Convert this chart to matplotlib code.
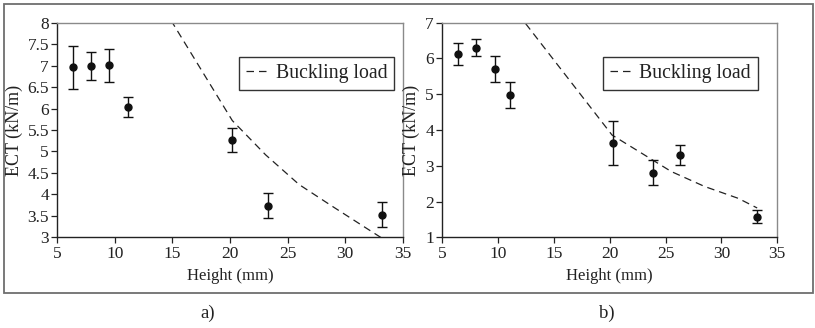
import numpy as np
import matplotlib
matplotlib.use("Agg")
import matplotlib.pyplot as plt
from matplotlib.patches import Rectangle

plt.rcParams['font.family'] = ['Liberation Serif', 'DejaVu Serif']
plt.rcParams['text.color'] = '#222222'
plt.rcParams['axes.labelcolor'] = '#222222'
plt.rcParams['xtick.color'] = '#222222'
plt.rcParams['ytick.color'] = '#222222'

# panel a) measured ECT and buckling load
h_a = [6.4, 7.9, 9.5, 11.1, 20.2, 23.3, 33.2]
ect_a = [6.96, 6.99, 7.01, 6.04, 5.27, 3.74, 3.53]
err_a = [0.50, 0.33, 0.38, 0.23, 0.28, 0.30, 0.30]
hb_a = [11.1, 15.0, 20.2, 23.1, 26.0, 28.9, 31.8, 33.2]
buck_a = [9.7, 8.0, 5.72, 4.92, 4.23, 3.72, 3.22, 2.98]

# panel b)
h_b = [6.4, 8.0, 9.7, 11.1, 20.3, 23.9, 26.3, 33.2]
ect_b = [6.13, 6.30, 5.70, 4.98, 3.64, 2.80, 3.29, 1.58]
err_b = [0.30, 0.24, 0.36, 0.36, 0.62, 0.35, 0.28, 0.17]
hb_b = [11.1, 12.4, 20.2, 22.6, 25.5, 28.5, 31.5, 33.2]
buck_b = [7.53, 7.0, 3.86, 3.40, 2.84, 2.42, 2.09, 1.82]

xticks = [5, 10, 15, 20, 25, 30, 35]
yticks_a = [3, 3.5, 4, 4.5, 5, 5.5, 6, 6.5, 7, 7.5, 8]
yticks_b = [1, 2, 3, 4, 5, 6, 7]

fig = plt.figure(figsize=(8.15, 3.28), dpi=100)

# outer frame
fig.patches.append(Rectangle((4/815, 1-292.5/328), 808.7/815, 288.5/328,
                             transform=fig.transFigure, fill=False,
                             edgecolor='#6e6e6e', linewidth=1.3))

ax1 = fig.add_axes([0.0703, 0.2765, 0.4238, 0.6543])
ax2 = fig.add_axes([0.5427, 0.2765, 0.4110, 0.6543])


def panel(ax, h, ect, err, hb, buck, yticks, ylim, legx, ylabx):
    ax.plot(hb, buck, color='#222222', linestyle=(0, (6, 4)), linewidth=0.9,
            label='Buckling load')
    ax.errorbar(h, ect, yerr=err, fmt='o', color='#111111', markersize=5,
                elinewidth=1.0, capsize=3.5, capthick=1.0)
    ax.set_xlim(5, 35)
    ax.set_ylim(*ylim)
    ax.set_xticks(xticks)
    ax.set_yticks(yticks)
    ax.set_yticklabels([('%g' % t) for t in yticks])
    ax.tick_params(direction='out', length=4, width=0.9, labelsize=12.5, pad=2)
    ax.tick_params(axis='x', pad=2)
    for s in ['top', 'right']:
        ax.spines[s].set_color('#8a8a8a')
        ax.spines[s].set_linewidth(1.0)
    for s in ['left', 'bottom']:
        ax.spines[s].set_color('#222222')
        ax.spines[s].set_linewidth(1.0)
    ax.set_xlabel('Height (mm)', fontsize=12)
    ax.set_ylabel('ECT (kN/m)', fontsize=13)
    ax.xaxis.set_label_coords(0.5, -0.143)
    ax.yaxis.set_label_coords(ylabx, 0.5)
    leg = ax.legend(loc='upper right', bbox_to_anchor=(legx, 0.84),
                    borderaxespad=0, fontsize=14.2, fancybox=False,
                    framealpha=1, handlelength=1.2, handletextpad=0.3,
                    borderpad=0.35)
    leg.get_frame().set_edgecolor('#333333')
    leg.get_frame().set_linewidth(1.0)


panel(ax1, h_a, ect_a, err_a, hb_a, buck_a, yticks_a, (3, 8), 0.975, -0.099)
panel(ax2, h_b, ect_b, err_b, hb_b, buck_b, yticks_b, (1, 7), 0.942, -0.067)

fig.text(208/815, 1-313/328, 'a)', ha='center', va='center', fontsize=13.5)
fig.text(607/815, 1-313/328, 'b)', ha='center', va='center', fontsize=13.5)

fig.savefig('out.png', dpi=100)
